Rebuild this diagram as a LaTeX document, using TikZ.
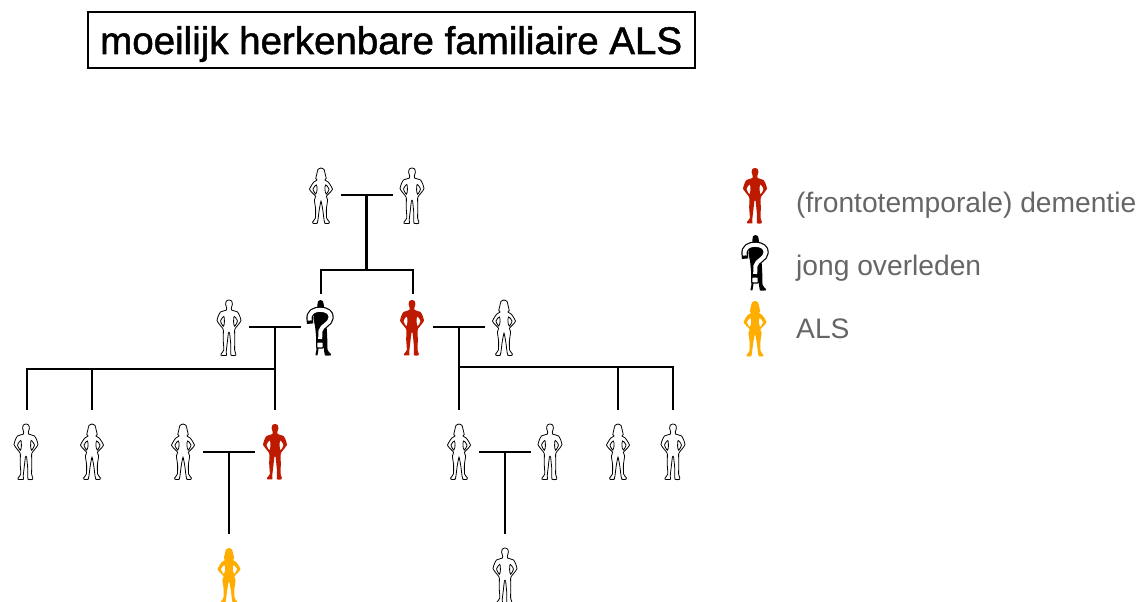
\documentclass[tikz,border=0pt]{standalone}
\usepackage{fontspec}
\setmainfont{Liberation Sans}
\newfontfamily\titlefont[FakeBold=1.3]{Liberation Sans}
\definecolor{demred}{HTML}{BE1A00}
\definecolor{alsamber}{HTML}{FFAE00}
\definecolor{legendgray}{HTML}{666666}
\tikzset{
  link/.style={draw=black,line width=2.6pt},
  outlinefig/.style={draw=black,line width=0.8pt,fill=white,even odd rule},
  redfig/.style={fill=demred,even odd rule},
  amberfig/.style={fill=alsamber,even odd rule},
  blackfig/.style={fill=black,even odd rule},
  legendtext/.style={anchor=base west,inner sep=0pt,text=legendgray,font=\fontsize{28.2}{32}\selectfont},
  titlebox/.style={draw=black,line width=2pt,minimum width=607pt,minimum height=56pt,inner sep=0pt,anchor=north west},
}
\newcommand{\maleoutline}{
  plot[smooth cycle,tension=0.3] coordinates {(0,0) (2.6,1) (3.4,4.2) (2.3,8) (2.6,10) (8.5,12) (10.5,15.5) (12,20.5) (10.2,23.5) (6.2,28.5) (5.6,30.5) (5.8,40) (5.6,50) (6.8,53.8) (6.6,55.3) (2,55.3) (1.8,45) (0.6,33) (0,32.2) (-0.6,33) (-2,45) (-2.8,52) (-2.6,55.3) (-8,55.3) (-8,54) (-5.2,50) (-5.8,40) (-5.6,30.5) (-6.2,28.5) (-10.2,23.5) (-12,20.5) (-10.5,15.5) (-8.5,12) (-2.6,10) (-2.3,8) (-3.4,4.2) (-2.6,1)}
  plot[smooth cycle,tension=0.5] coordinates {(5.2,16.5) (8.4,21) (5.6,26.2) (4.6,22)}
  plot[smooth cycle,tension=0.5] coordinates {(-5.2,16.5) (-8.4,21) (-5.6,26.2) (-4.6,22)}
}
\newcommand{\femaleoutline}{
  plot[smooth cycle,tension=0.3] coordinates {(0,0) (3,1.4) (4.2,6) (5.2,10.5) (4,12) (7.4,14.2) (9,16.5) (11.5,21) (9.5,24) (5.4,28.3) (6.6,32) (5.4,41) (5.6,50) (8.4,54) (8,55.3) (3.8,55.3) (2.8,50) (1.8,42) (0,33.2) (-1.8,42) (-2.8,50) (-3.8,55.3) (-8,55.3) (-8.4,54) (-5.6,50) (-5.4,41) (-6.6,32) (-5.4,28.3) (-9.5,24) (-11.5,21) (-9,16.5) (-7.4,14.2) (-4,12) (-5.2,10.5) (-4.2,6) (-3,1.4)}
  plot[smooth cycle,tension=0.5] coordinates {(4.6,17) (8,21) (5.2,26) (3.9,21.5)}
  plot[smooth cycle,tension=0.5] coordinates {(-4.6,17) (-8,21) (-5.2,26) (-3.9,21.5)}
}
\newcommand{\qbody}{
  plot[smooth cycle,tension=0.3] coordinates {(0.5,0) (3,1.4) (3.8,5) (4.4,9) (7,12) (7.6,18) (6.6,26) (7.2,36) (7.6,50) (11,54) (10.8,55.3) (5,55.3) (3.4,46) (1,40) (-1,46) (-2.6,55.3) (-4.4,55.3) (-4.4,53.6) (-3.6,50) (-4,36) (-5,26) (-6.6,18) (-5,12) (-3,9) (-2.6,5) (-2,1.4)}
}
% \person{name}{x}{top y}{shape}{style}
\newcommand{\person}[5]{%
  \coordinate (#1) at (#2,#3);
  \path[#5,shift={(#2,#3)}] #4;
}
\newcommand{\qcurve}{(-10.2,20.5) .. controls (-12,12) and (-5,9.8) .. (0,9.8) .. controls (7,9.8) and (10.8,13) .. (10.6,17.5) .. controls (10.3,24) and (1.6,25) .. (0.4,31) -- (0.2,39)}
\newcommand{\qperson}[3]{%
  \coordinate (#1) at (#2,#3);
  \begin{scope}[shift={(#2,#3)}]
    \path[blackfig] \qbody;
    \path[draw=black,line width=6.4pt,line cap=rect,line join=round] \qcurve;
    \path[draw=white,line width=4pt,line cap=butt,line join=round] \qcurve;
    \path[draw=black,fill=white,line width=1.2pt,rounded corners=0.8pt] (-3.2,42) rectangle (3.2,48);
  \end{scope}
}
\begin{document}
\begin{tikzpicture}[x=1pt,y=-1pt]
\useasboundingbox (0,0) rectangle (1140,602);
\node[titlebox] (title) at (87.2,11.2) {};
\node[anchor=base west,inner sep=0pt,font=\titlefont\fontsize{38.5}{44}\selectfont] (titletext) at (100,54) {moeilijk herkenbare familiaire ALS};

% figures
\person{a1}{321}{168}{\femaleoutline}{outlinefig}
\person{a2}{412}{168}{\maleoutline}{outlinefig}
\person{b1}{229}{300}{\maleoutline}{outlinefig}
\qperson{b2}{320}{300}
\person{b3}{412}{300}{\maleoutline}{redfig}
\person{b4}{504}{300}{\femaleoutline}{outlinefig}
\person{c1}{26}{424}{\maleoutline}{outlinefig}
\person{c2}{92}{424}{\femaleoutline}{outlinefig}
\person{c3}{183}{424}{\femaleoutline}{outlinefig}
\person{c4}{275}{424}{\maleoutline}{redfig}
\person{c5}{459}{424}{\femaleoutline}{outlinefig}
\person{c6}{550}{424}{\maleoutline}{outlinefig}
\person{c7}{618}{424}{\femaleoutline}{outlinefig}
\person{c8}{673}{424}{\maleoutline}{outlinefig}
\person{d1}{229}{548}{\femaleoutline}{amberfig}
\person{d2}{505}{548}{\maleoutline}{outlinefig}
% legend
\person{l1}{755}{168}{\maleoutline}{redfig}
\qperson{l2}{755}{235}
\person{l3}{755}{301}{\femaleoutline}{amberfig}
\node[legendtext] (t1) at (796,212) {(frontotemporale) dementie};
\node[legendtext] (t2) at (796,275) {jong overleden};
\node[legendtext] (t3) at (796,338) {ALS};

% connector points
\coordinate (m1l) at (341,195); \coordinate (m1r) at (393,195); \coordinate (m1m) at (366.5,195);
\coordinate (s1m) at (366.5,270); \coordinate (s1l) at (321,270); \coordinate (s1r) at (413,270);
\coordinate (a2d) at (321,294); \coordinate (a3d) at (413,294);
\coordinate (m2l) at (249,327); \coordinate (m2r) at (301,327); \coordinate (m2m) at (275,327);
\coordinate (s2m) at (275,369); \coordinate (s2a) at (27,369); \coordinate (s2b) at (92,369);
\coordinate (c1t) at (27,410); \coordinate (c2t) at (92,410); \coordinate (c4t) at (275,410);
\coordinate (m3l) at (433,327); \coordinate (m3r) at (485,327); \coordinate (m3m) at (459,327);
\coordinate (s3m) at (459,367); \coordinate (s3a) at (618,367); \coordinate (s3b) at (673,367);
\coordinate (c5t) at (459,410); \coordinate (c7t) at (618,410); \coordinate (c8t) at (673,410);
\coordinate (m4l) at (203,452); \coordinate (m4r) at (255,452); \coordinate (m4m) at (229,452); \coordinate (d1t) at (229,534);
\coordinate (m5l) at (479,452); \coordinate (m5r) at (531,452); \coordinate (m5m) at (505,452); \coordinate (d2t) at (505,534);

\draw[link] (m1l) -- (m1r);
\draw[link] (m1m) -- (s1m);
\draw[link,line cap=rect] (s1l) -- (s1r);
\draw[link] (s1l) -- (a2d);
\draw[link] (s1r) -- (a3d);
\draw[link] (m2l) -- (m2r);
\draw[link] (m2m) -- (c4t);
\draw[link,line cap=rect] (s2a) -- (s2m);
\draw[link] (s2a) -- (c1t);
\draw[link] (s2b) -- (c2t);
\draw[link] (m3l) -- (m3r);
\draw[link] (m3m) -- (c5t);
\draw[link,line cap=rect] (s3m) -- (s3b);
\draw[link] (s3a) -- (c7t);
\draw[link] (s3b) -- (c8t);
\draw[link] (m4l) -- (m4r);
\draw[link] (m4m) -- (d1t);
\draw[link] (m5l) -- (m5r);
\draw[link] (m5m) -- (d2t);
\end{tikzpicture}
\end{document}
